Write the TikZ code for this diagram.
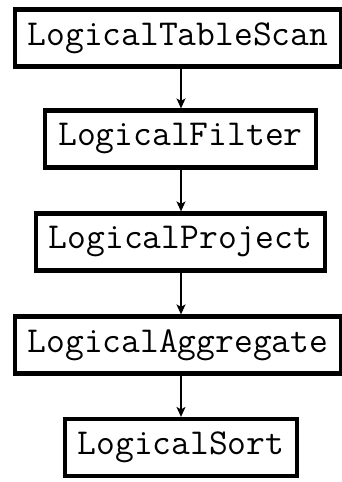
\documentclass[tikz,border=0pt]{standalone}
\usepackage{fontspec}
\usetikzlibrary{arrows.meta}
\tikzset{
  op/.style={draw, line width=4.2pt, rectangle, minimum height=57pt,
    inner xsep=13pt, font=\fontsize{36.5}{40}\selectfont\ttfamily},
  flow/.style={line width=1.4pt, -{Stealth[length=10pt,width=9pt,inset=2.5pt]}}
}
\begin{document}
\begin{tikzpicture}[x=1pt,y=1pt]
        \useasboundingbox (0,0) rectangle (342,-482);
        \node[op] (scan)    at (178,-38)    {LogicalTableScan};
        \node[op] (filter)  at (180.5,-139)   {LogicalFilter};
        \node[op] (project) at (180.5,-242)   {LogicalProject};
        \node[op] (agg)     at (178,-345)   {LogicalAggregate};
        \node[op] (sort)    at (181,-447.5) {LogicalSort};
        \draw[flow] (scan.south -| 181,0)    -- (filter.north -| 181,0);
        \draw[flow] (filter.south -| 181,0)  -- (project.north -| 181,0);
        \draw[flow] (project.south -| 181,0) -- (agg.north -| 181,0);
        \draw[flow] (agg.south -| 181,0)     -- (sort.north -| 181,0);
    \end{tikzpicture}
\end{document}
